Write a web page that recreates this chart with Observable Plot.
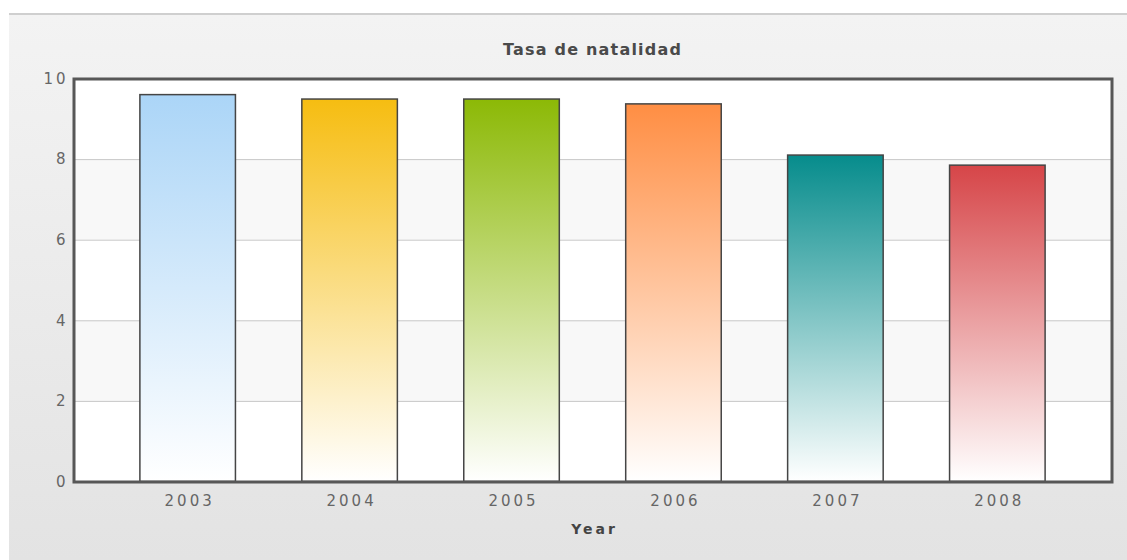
<!DOCTYPE html>
<html>
<head>
<meta charset="utf-8">
<script src="https://cdn.jsdelivr.net/npm/d3@7"></script>
<script src="https://cdn.jsdelivr.net/npm/@observablehq/plot@0.6"></script>
<style>
  body { margin: 0; background: #fff; }
  #wrap { position: relative; width: 1127px; height: 560px; overflow: hidden; }
  #panel { position: absolute; left: 9px; top: 13px; right: 0; bottom: 0;
    border-top: 2px solid #cfcfcf; background: linear-gradient(#f3f3f3, #e3e3e3); }
  #title { position: absolute; left: 73.5px; width: 1038px; top: 40px; text-align: center;
    font: bold 16px "DejaVu Sans", sans-serif; letter-spacing: 1.2px; color: #4a4a4a; line-height: 20px; }
  #chart { position: absolute; left: 0; top: 0; }
  #chart svg text { letter-spacing: 3px; }
</style>
</head>
<body>
<div id="wrap">
  <div id="panel"></div>
  <div id="title">Tasa de natalidad</div>
  <div id="chart"></div>
</div>
<script>
const years = ["2003", "2004", "2005", "2006", "2007", "2008"];
const rates = [9.6, 9.49, 9.49, 9.37, 8.1, 7.85];
const colors = ["#abd5f7", "#f6bd11", "#8cb906", "#ff8e43", "#068c8c", "#d64548"];
const yTicks = [0, 2, 4, 6, 8, 10];
const gridValues = [2, 4, 6, 8];
const bandLo = [2, 6];
const bandHi = [4, 8];

const data = years.map((year, i) => ({year, rate: rates[i], color: colors[i]}));
const bands = bandLo.map((lo, i) => ({lo, hi: bandHi[i]}));

const defsMark = () => {
  const g = d3.create("svg:g");
  const defs = g.append("defs");
  data.forEach(d => {
    const lg = defs.append("linearGradient")
      .attr("id", "g" + d.year)
      .attr("x1", 0).attr("y1", 0).attr("x2", 0).attr("y2", 1);
    lg.append("stop").attr("offset", "0%").attr("stop-color", d.color);
    lg.append("stop").attr("offset", "100%").attr("stop-color", "#ffffff");
  });
  return g.node();
};

const chart = Plot.plot({
  width: 1127,
  height: 560,
  marginLeft: 73.5,
  marginRight: 15.5,
  marginTop: 78.5,
  marginBottom: 78.5,
  x: {domain: years, padding: 0.41, round: false, label: null},
  y: {domain: [0, 10], label: null},
  color: {type: "identity"},
  style: {background: "transparent", fontFamily: "DejaVu Sans", overflow: "visible"},
  marks: [
    Plot.frame({fill: "#ffffff"}),
    Plot.rect(bands, {y1: "lo", y2: "hi", fill: "#f8f8f8"}),
    Plot.ruleY(gridValues, {stroke: "#c8c8c8", strokeWidth: 1}),
    defsMark,
    Plot.barY(data, {x: "year", y: "rate", fill: d => `url(#g${d.year})`, stroke: "#454545", strokeWidth: 1.5}),
    Plot.axisY({ticks: yTicks, tickSize: 0, tickPadding: 5.5, fontSize: 15, fill: "#666", label: null}),
    Plot.axisX({tickSize: 0, tickPadding: 13, fontSize: 15, fill: "#666", dx: 1.5, label: null}),
    Plot.text(["Year"], {frameAnchor: "bottom", dy: 52, dx: 1.5, fontWeight: "bold", fontSize: 14, fill: "#444"}),
    Plot.frame({stroke: "#575757", strokeWidth: 3})
  ]
});
document.getElementById("chart").appendChild(chart);
</script>
</body>
</html>
